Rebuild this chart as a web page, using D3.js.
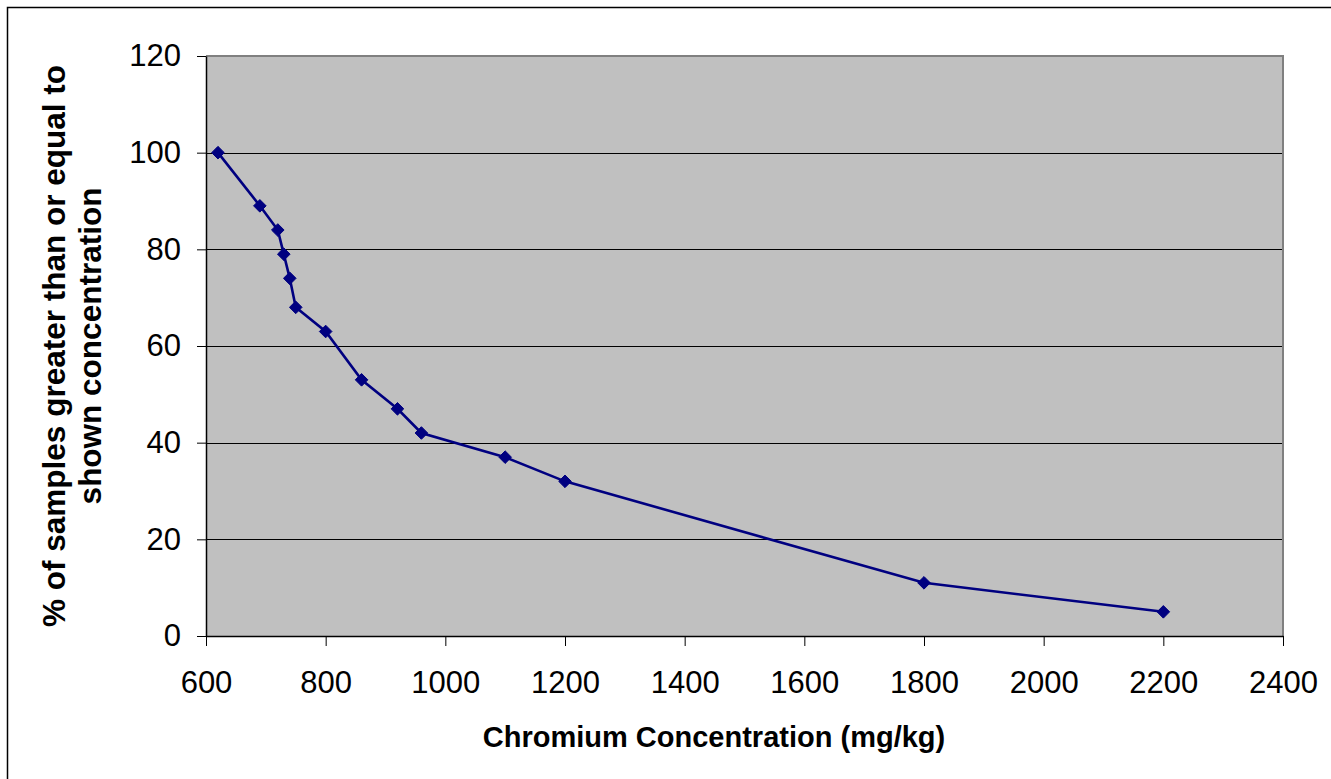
<!DOCTYPE html>
<html>
<head>
<meta charset="utf-8">
<script src="https://cdn.jsdelivr.net/npm/d3@7"></script>
<style>
  html, body { margin: 0; padding: 0; background: #fff; }
  svg { display: block; }
</style>
</head>
<body>
<svg id="chart" width="1331" height="779"></svg>
<script>
// ---- data ----
const concentration = [620, 690, 720, 730, 740, 750, 800, 860, 920, 960, 1100, 1200, 1800, 2200];
const percentGreater = [100, 89, 84, 79, 74, 68, 63, 53, 47, 42, 37, 32, 11, 5];
const xTicks = [600, 800, 1000, 1200, 1400, 1600, 1800, 2000, 2200, 2400];
const yTicks = [0, 20, 40, 60, 80, 100, 120];
const xTitle = "Chromium Concentration (mg/kg)";
const yTitleLines = ["% of samples greater than or equal to", "shown concentration"];

(function () {
const svg = d3.select("#chart");
const pl = 206, pr = 1283, pt = 56, pb = 636;

// outer frame (cropped at right/bottom)
svg.append("rect").attr("x", 7.5).attr("y", 7.5).attr("width", 1340).attr("height", 800)
  .attr("fill", "none").attr("stroke", "#000").attr("stroke-width", 1.5);

const x = d3.scaleLinear().domain([600, 2400]).range([pl, pr]);
const y = d3.scaleLinear().domain([0, 120]).range([pb, pt]);

// plot background
svg.append("rect").attr("x", pl).attr("y", pt).attr("width", pr - pl).attr("height", pb - pt)
  .attr("fill", "#c0c0c0");

// gridlines
svg.append("g").selectAll("line").data(yTicks.filter(d => d > 0 && d < 120)).join("line")
  .attr("x1", pl).attr("x2", pr)
  .attr("y1", d => Math.round(y(d)) + 0.5).attr("y2", d => Math.round(y(d)) + 0.5)
  .attr("stroke", "#000").attr("stroke-width", 1);

// plot border top/right gray
svg.append("path")
  .attr("d", `M${pl},${pt} H${pr} V${pb}`)
  .attr("fill", "none").attr("stroke", "#808080").attr("stroke-width", 2);

const font = "'Liberation Sans', Arial, sans-serif";
const fmt = d3.format("d");

// y axis
const yAxis = svg.append("g").attr("transform", `translate(${pl},0)`)
  .call(d3.axisLeft(y).tickValues(yTicks).tickFormat(fmt).tickSize(9).tickPadding(16).tickSizeOuter(0));
yAxis.attr("font-size", null).attr("font-family", null);
yAxis.select(".domain").attr("stroke", "#000").attr("stroke-width", 1.5);
yAxis.selectAll(".tick line").attr("stroke", "#000").attr("stroke-width", 1);
yAxis.selectAll("text").style("font-family", font).style("font-size", "31px").attr("fill", "#000");

// x axis
const xAxis = svg.append("g").attr("transform", `translate(0,${pb})`)
  .call(d3.axisBottom(x).tickValues(xTicks).tickFormat(fmt).tickSize(10).tickPadding(25).tickSizeOuter(0));
xAxis.attr("font-size", null).attr("font-family", null);
xAxis.select(".domain").attr("stroke", "#000").attr("stroke-width", 1.5);
xAxis.selectAll(".tick line").attr("stroke", "#000").attr("stroke-width", 1);
xAxis.selectAll("text").style("font-family", font).style("font-size", "31px").attr("fill", "#000");

// series line
const pts = concentration.map((c, i) => [c, percentGreater[i]]);
svg.append("path").datum(pts)
  .attr("d", d3.line().x(d => x(d[0])).y(d => y(d[1])))
  .attr("fill", "none").attr("stroke", "#000080").attr("stroke-width", 2.6);

// diamond markers
const r = 6.3;
svg.append("g").selectAll("path").data(pts).join("path")
  .attr("transform", d => `translate(${x(d[0])},${y(d[1])})`)
  .attr("d", `M0,${-r} L${r},0 L0,${r} L${-r},0 Z`)
  .attr("fill", "#000080").attr("stroke", "#000080").attr("stroke-width", 1);

// x title
svg.append("text").attr("x", 714).attr("y", 747).attr("text-anchor", "middle")
  .style("font-family", font).style("font-weight", "bold").style("font-size", "29px")
  .attr("fill", "#000").text(xTitle);

// y title
const yt = svg.append("text").attr("transform", `translate(65,${(pt + pb) / 2}) rotate(-90)`)
  .attr("text-anchor", "middle").style("font-family", font).style("font-weight", "bold")
  .style("font-size", "31.5px").attr("fill", "#000");
yTitleLines.forEach((t, i) => {
  yt.append("tspan").attr("x", 0).attr("dy", i === 0 ? 0 : 36).text(t);
});
})();
</script>
</body>
</html>
